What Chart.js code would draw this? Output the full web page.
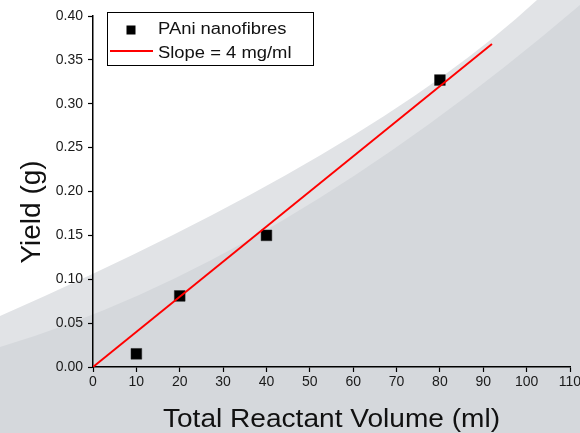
<!DOCTYPE html>
<html>
<head>
<meta charset="utf-8">
<script src="https://cdn.jsdelivr.net/npm/chart.js@4"></script>
<style>
  html, body { margin: 0; padding: 0; background: #ffffff; }
  #wrap { width: 580px; height: 433px; }
</style>
</head>
<body>
<div id="wrap"><canvas id="yield-chart" width="580" height="433"></canvas></div>
<script>
const volumes = [10, 20, 40, 80];
const yields = [0.015, 0.081, 0.150, 0.327];

const fitVolumes = [0, 92];
const fitYields = [0, 0.368];

const xTicks = [0, 10, 20, 30, 40, 50, 60, 70, 80, 90, 100, 110];
const yTicks = [0, 0.05, 0.10, 0.15, 0.20, 0.25, 0.30, 0.35, 0.40];
const yTickLabels = ['0.00', '0.05', '0.10', '0.15', '0.20', '0.25', '0.30', '0.35', '0.40'];

const seriesName = 'PAni nanofibres';
const fitName = 'Slope = 4 mg/ml';
const xTitle = 'Total Reactant Volume (ml)';
const yTitle = 'Yield (g)';

const fontFamily = "'Liberation Sans', Arial, sans-serif";

// grey swooshes behind the plot
const backdrop = {
  id: 'backdrop',
  beforeDraw(chart) {
    const ctx = chart.ctx;
    ctx.save();
    ctx.fillStyle = '#ffffff';
    ctx.fillRect(0, 0, chart.width, chart.height);

    ctx.fillStyle = '#e1e3e6';
    ctx.beginPath();
    ctx.moveTo(0, 316);
    ctx.quadraticCurveTo(373, 152, 537, 0);
    ctx.lineTo(580, 0);
    ctx.lineTo(580, 433);
    ctx.lineTo(0, 433);
    ctx.closePath();
    ctx.fill();

    ctx.fillStyle = '#d5d8dc';
    ctx.beginPath();
    ctx.moveTo(0, 347);
    ctx.quadraticCurveTo(275, 265, 580, 5);
    ctx.lineTo(580, 433);
    ctx.lineTo(0, 433);
    ctx.closePath();
    ctx.fill();
    ctx.restore();
  }
};

// axis titles and the boxed legend
const labels = {
  id: 'labels',
  afterDraw(chart) {
    const ctx = chart.ctx;
    const area = chart.chartArea;
    ctx.save();
    ctx.fillStyle = '#111111';

    ctx.save();
    ctx.font = '26px ' + fontFamily;
    ctx.textAlign = 'center';
    ctx.textBaseline = 'alphabetic';
    ctx.translate((area.left + area.right) / 2, 427);
    ctx.scale(1.08, 1);
    ctx.fillText(xTitle, 0, 0);
    ctx.restore();

    ctx.save();
    ctx.font = '28px ' + fontFamily;
    ctx.textAlign = 'center';
    ctx.textBaseline = 'alphabetic';
    ctx.translate(40, 212);
    ctx.rotate(-Math.PI / 2);
    ctx.fillText(yTitle, 0, 0);
    ctx.restore();

    const pts = chart.data.datasets[1];
    const fit = chart.data.datasets[0];

    ctx.fillStyle = '#ffffff';
    ctx.fillRect(107.5, 12.5, 206, 53);
    ctx.strokeStyle = '#000000';
    ctx.lineWidth = 1;
    ctx.strokeRect(107.5, 12.5, 206, 53);

    ctx.fillStyle = pts.backgroundColor;
    ctx.fillRect(126.5, 25.5, 9, 9);

    ctx.strokeStyle = fit.borderColor;
    ctx.lineWidth = 1.8;
    ctx.beginPath();
    ctx.moveTo(110, 51);
    ctx.lineTo(153, 51);
    ctx.stroke();

    ctx.fillStyle = '#111111';
    ctx.font = '16px ' + fontFamily;
    ctx.textAlign = 'left';
    ctx.textBaseline = 'alphabetic';
    ctx.save();
    ctx.translate(158, 34);
    ctx.scale(1.15, 1);
    ctx.fillText(pts.label, 0, 0);
    ctx.restore();
    ctx.save();
    ctx.translate(158, 58);
    ctx.scale(1.15, 1);
    ctx.fillText(fit.label, 0, 0);
    ctx.restore();

    ctx.restore();
  }
};

const ctx = document.getElementById('yield-chart');

new Chart(ctx, {
  type: 'scatter',
  data: {
    datasets: [{
      label: fitName,
      data: fitVolumes.map((v, i) => ({ x: v, y: fitYields[i] })),
      showLine: true,
      borderColor: '#ff0000',
      borderWidth: 1.9,
      pointRadius: 0,
      fill: false,
      order: 0
    }, {
      label: seriesName,
      data: volumes.map((v, i) => ({ x: v, y: yields[i] })),
      backgroundColor: '#000000',
      borderColor: '#222222',
      borderWidth: 0.5,
      pointStyle: 'rect',
      pointRadius: 7.6,
      order: 1
    }]
  },
  options: {
    responsive: false,
    animation: false,
    devicePixelRatio: 1,
    layout: {
      padding: { top: 16, right: 10, left: 0, bottom: 0 }
    },
    plugins: {
      legend: { display: false },
      tooltip: { enabled: false }
    },
    scales: {
      x: {
        type: 'linear',
        min: 0,
        max: 110,
        afterBuildTicks: (scale) => {
          scale.ticks = xTicks.map((v) => ({ value: v }));
        },
        afterFit: (scale) => {
          scale.height = 66;
          scale.paddingLeft = 0;
          scale.paddingRight = 0;
        },
        ticks: {
          color: '#1a1a1a',
          padding: 2,
          maxRotation: 0,
          autoSkip: false,
          font: { family: fontFamily, size: 14 }
        },
        grid: {
          display: true,
          drawOnChartArea: false,
          drawTicks: true,
          tickLength: 5,
          tickColor: '#000000',
          tickWidth: 1.2
        },
        border: { color: '#000000', width: 1.5 }
      },
      y: {
        type: 'linear',
        min: 0,
        max: 0.4,
        afterBuildTicks: (scale) => {
          scale.ticks = yTicks.map((v) => ({ value: v }));
        },
        afterFit: (scale) => {
          scale.width = 93;
          scale.paddingTop = 0;
          scale.paddingBottom = 0;
        },
        ticks: {
          color: '#1a1a1a',
          padding: 5,
          autoSkip: false,
          font: { family: fontFamily, size: 14 },
          callback: function (value, index) {
            return yTickLabels[index];
          }
        },
        grid: {
          display: true,
          drawOnChartArea: false,
          drawTicks: true,
          tickLength: 5,
          tickColor: '#000000',
          tickWidth: 1.2
        },
        border: { color: '#000000', width: 1.5 }
      }
    }
  },
  plugins: [backdrop, labels]
});
</script>
</body>
</html>
